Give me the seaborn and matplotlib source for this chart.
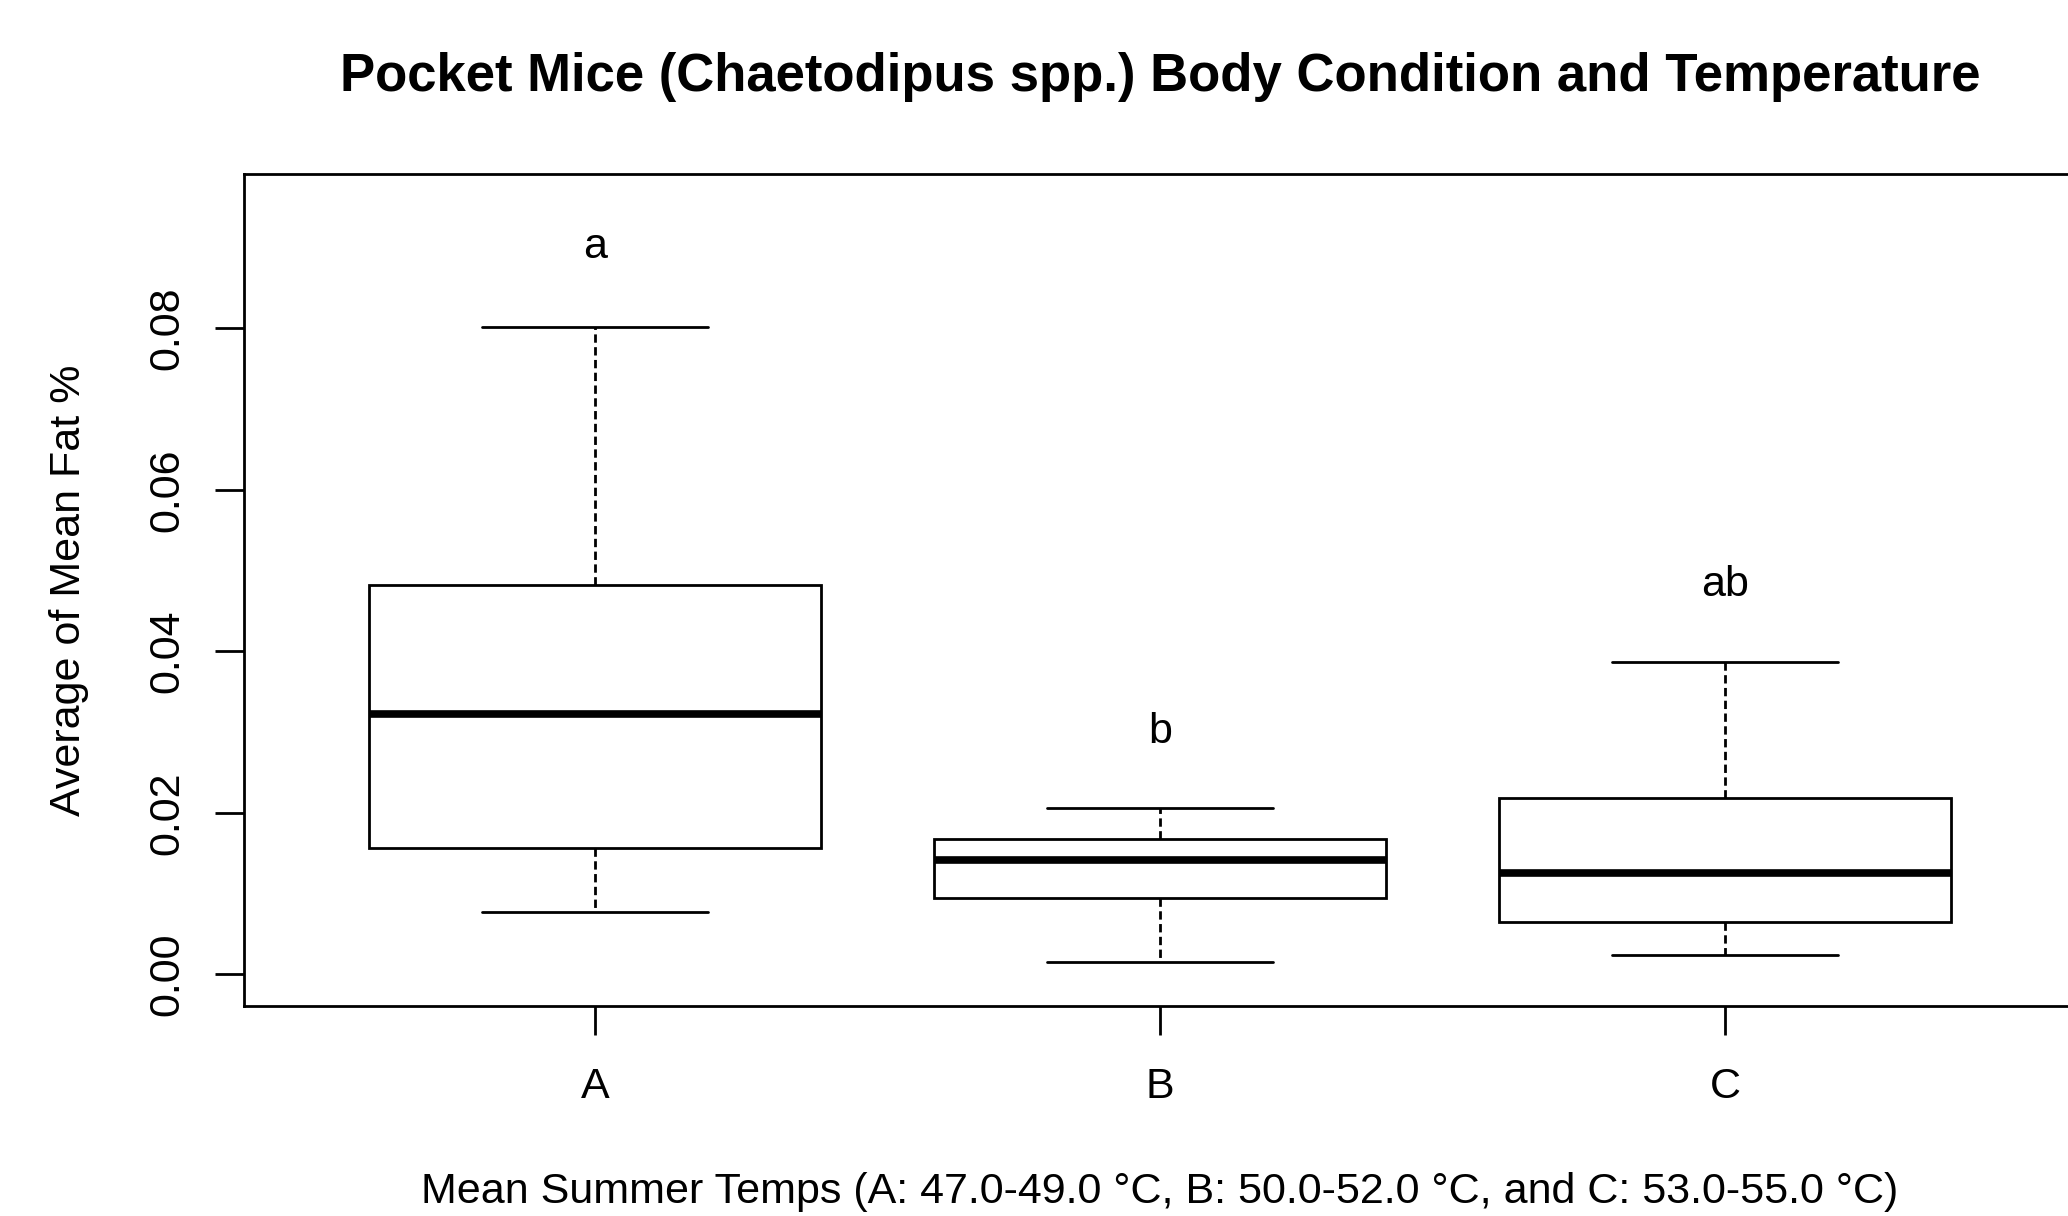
import numpy as np
import pandas as pd
import matplotlib
matplotlib.use("Agg")
import matplotlib.pyplot as plt
import seaborn as sns

# five-number summaries
groups = ["A", "B", "C"]
lower = [0.0077, 0.0015, 0.0024]
q1 = [0.0157, 0.0095, 0.0065]
median = [0.0323, 0.0142, 0.0126]
q3 = [0.0482, 0.0168, 0.0219]
upper = [0.0802, 0.0206, 0.0387]

# significance letters above each box
letters = ["a", "b", "ab"]
letter_y = [0.0901, 0.0300, 0.0482]

yticks = [0.00, 0.02, 0.04, 0.06, 0.08]

rows = []
for g, vals in zip(groups, zip(lower, q1, median, q3, upper)):
    for v in vals:
        rows.append({"temp": g, "fat": v})
df = pd.DataFrame(rows)

sns.set_style("ticks")
plt.rcParams["font.family"] = ["Liberation Sans", "DejaVu Sans"]
plt.rcParams["text.color"] = "black"
plt.rcParams["axes.labelcolor"] = "black"
plt.rcParams["xtick.color"] = "black"
plt.rcParams["ytick.color"] = "black"

W, H = 2068, 1216
fig = plt.figure(figsize=(W / 100, H / 100), dpi=100)
fig.patch.set_facecolor("white")
ax = fig.add_axes([244 / W, 1 - 1006 / H, (2076 - 244) / W, (1006 - 174) / H])

sns.boxplot(data=df, x="temp", y="fat", order=groups, whis=(0, 100),
            width=0.8, color="white", linecolor="black", linewidth=2,
            showfliers=False,
            medianprops=dict(linewidth=5.5, color="black"),
            whiskerprops=dict(linestyle=(0, (3, 1.6))),
            ax=ax)

for i, (lab, y) in enumerate(zip(letters, letter_y)):
    ax.text(i, y, lab, ha="center", va="center", fontsize=31, color="black")

ax.set_xlim(-0.621, 2.621)
ax.set_ylim(-0.0039, 0.0991)
ax.set_yticks(yticks)
ax.set_yticklabels([f"{t:.2f}" for t in yticks], rotation=90, va="center")
ax.tick_params(axis="both", length=21, width=2, labelsize=31, color="black",
               labelcolor="black")
ax.tick_params(axis="y", pad=20)
ax.tick_params(axis="x", pad=23)
for s in ax.spines.values():
    s.set_linewidth(2)
    s.set_color("black")

ax.set_ylabel("Average of Mean Fat %", fontsize=31, labelpad=42, color="black")
ax.set_xlabel("Mean Summer Temps (A: 47.0-49.0 \u00b0C, B: 50.0-52.0 \u00b0C, and C: 53.0-55.0 \u00b0C)",
              fontsize=31, labelpad=47, color="black")
ax.set_title("Pocket Mice (Chaetodipus spp.) Body Condition and Temperature",
             fontsize=38, fontweight="bold", pad=60, color="black")

fig.savefig("out.png", dpi=100, facecolor="white")
